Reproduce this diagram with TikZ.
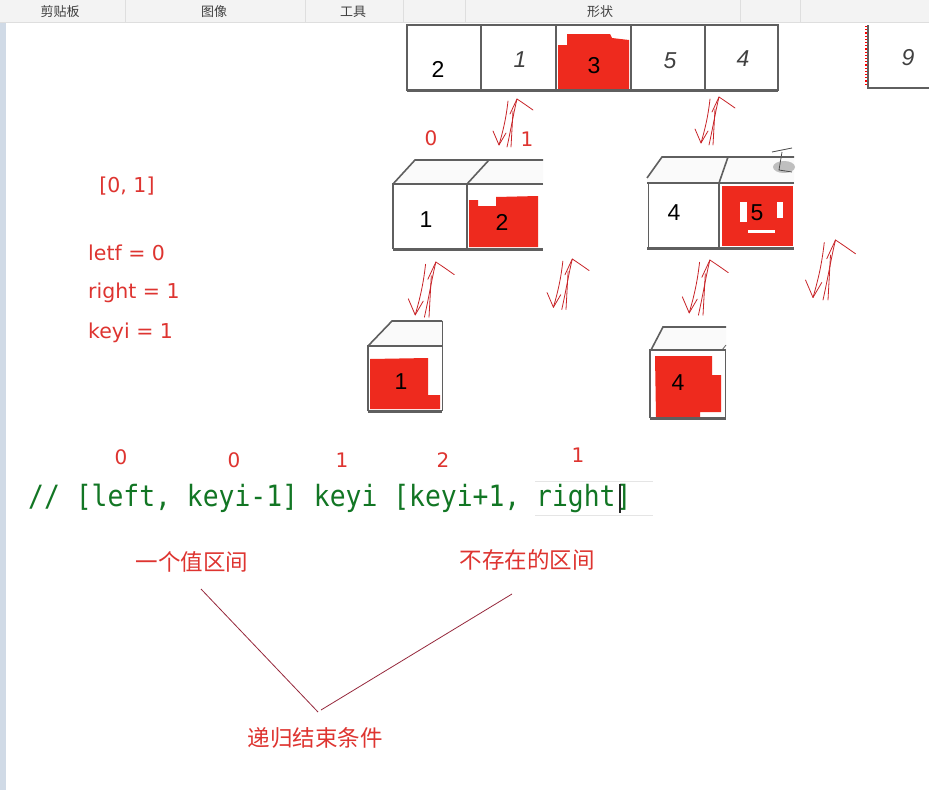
\documentclass[tikz,border=0pt]{standalone}
\usepackage{fontspec}
\setmainfont{Noto Sans CJK SC}
\newfontfamily\cjk{Noto Sans CJK SC}
\newfontfamily\codefont[FakeStretch=0.9]{DejaVu Sans Mono}
\newfontfamily\numfont{Liberation Sans}
\newfontfamily\labfont{DejaVu Sans}
\definecolor{redtxt}{RGB}{222,52,48}
\definecolor{redfill}{RGB}{238,42,30}
\definecolor{scribc}{RGB}{200,36,40}
\definecolor{boxline}{RGB}{95,95,95}
\definecolor{codegreen}{RGB}{18,118,36}
\definecolor{maroon}{RGB}{150,40,60}
\definecolor{barbg}{RGB}{243,243,243}
\definecolor{barline}{RGB}{222,222,222}
\definecolor{stripc}{RGB}{208,218,230}
\begin{document}
\begin{tikzpicture}[x=1pt,y=-1pt,
  redlabel/.style={text=redtxt,font=\labfont\fontsize{20.5}{24}\selectfont,inner sep=0pt},
  rednum/.style={text=redtxt,font=\labfont\fontsize{20}{24}\selectfont,inner sep=0pt},
  cjklabel/.style={text=redtxt,font=\cjk\fontsize{22.5}{26}\selectfont,inner sep=0pt},
  barlabel/.style={text=black!75,font=\cjk\fontsize{13}{15}\selectfont,inner sep=0pt},
  cellnum/.style={text=black,font=\numfont\fontsize{23}{26}\selectfont,inner sep=0pt},
  handnum/.style={text=black!75,font=\numfont\itshape\fontsize{23}{26}\selectfont,inner sep=0pt},
  boxedge/.style={draw=boxline,line width=1.6pt},
  boxbottom/.style={draw=boxline,line width=3pt},
  topface/.style={fill=black!2},
  redblot/.style={fill=redfill},
  scrib/.style={draw=scribc,line width=0.8pt,line cap=round,line join=round},
  pointer/.style={draw=maroon,line width=0.8pt},
  updown/.pic={
    \draw[scrib] (-3,2) .. controls (-5,20) and (-8,32) .. (-12,46);
    \draw[scrib] (-18,32) -- (-12,46) -- (-5,34);
    \draw[scrib] (-4,48) .. controls (0,30) and (3,12) .. (6,0);
    \draw[scrib] (-1,15) -- (6,0) .. controls (12,4) .. (22,11);
    \draw[scrib] (2,12) -- (0,48);
  }
]
\useasboundingbox (0,0) rectangle (929,790);
\fill[white] (0,0) rectangle (929,790);

% toolbar
\fill[barbg] (0,0) rectangle (929,22);
\draw[barline,line width=1pt] (0,22.5) -- (929,22.5);
\foreach \sx in {125,305,403,465,740,800} \draw[barline,line width=0.8pt] (\sx,0) -- (\sx,22);
\node[barlabel] (tb1) at (60,12) {剪贴板};
\node[barlabel] (tb2) at (214,12) {图像};
\node[barlabel] (tb3) at (353,12) {工具};
\node[barlabel] (tb4) at (600,12) {形状};
% left strip
\fill[stripc] (0,23) rectangle (6,790);

% ---------- top array ----------
\fill[redblot] (558,45) -- (567,45) -- (567,34) -- (610,34) -- (612,38) -- (629,40) -- (629,89) -- (558,89) -- cycle;
\draw[boxedge] (407,25) rectangle (778,90);
\foreach \sx in {481,556,631,705} \draw[boxedge] (\sx,25) -- (\sx,90);
\draw[boxbottom] (407,90.5) -- (778,90.5);
\node[cellnum] (a0) at (438,69) {2};
\node[handnum] (a1) at (520,60) {1};
\node[cellnum] (a2) at (594,66) {3};
\node[handnum] (a3) at (670,61) {5};
\node[handnum] (a4) at (743,59) {4};
% partial cell 9
\draw[boxedge] (868,25) -- (868,88) -- (929,88);
\draw[red,dotted,line width=1.2pt] (866,26) -- (866,86);
\node[handnum] (a9) at (908,58) {9};

% labels 0 1
\node[rednum] (l0) at (431,138) {0};
\node[rednum] (l1) at (527,139) {1};

% ---------- middle-left node ----------
\fill[topface] (393,184) -- (415,160) -- (543,160) -- (543,184) -- cycle;
\fill[redblot] (469,200) -- (478,200) -- (478,206) -- (496,206) -- (496,197) -- (538,196) -- (538,247) -- (469,247) -- cycle;
\draw[boxedge] (393,184) -- (415,160) -- (543,160);
\draw[boxedge] (467,184) -- (489,160);
\draw[boxedge] (543,184) -- (393,184) -- (393,249);
\draw[boxedge] (467,184) -- (467,249);
\draw[boxbottom] (393,249) -- (543,249);
\node[cellnum] (m1) at (426,220) {1};
\node[cellnum] (m2) at (502,222) {2};

% ---------- middle-right node ----------
\fill[topface] (647,183) -- (647,178) -- (662,157) -- (794,157) -- (794,183) -- cycle;
\fill[black!25] (784,167) ellipse (11 and 6);
\draw[black!70,line width=0.8pt] (772,152) -- (792,148);
\draw[black!70,line width=0.8pt] (782,152) -- (779,170) -- (792,172);
\fill[redblot] (722,186) rectangle (793,246);
\fill[white] (740,202) rectangle (747,222);
\fill[white] (777,202) rectangle (783,218);
\fill[white] (748,230) rectangle (775,233);
\draw[boxedge] (647,178) -- (662,157) -- (794,157);
\draw[boxedge] (719,183) -- (728,157);
\draw[boxedge] (794,183) -- (647,183);
\draw[boxline,line width=0.8pt] (648,183) -- (648,248);
\draw[boxedge] (719,183) -- (719,248);
\draw[boxbottom] (647,248) -- (794,248);
\node[cellnum] (r1) at (674,213) {4};
\node[cellnum] (r2) at (757,213) {5};

% ---------- bottom-left node ----------
\fill[topface] (368,346) -- (392,321) -- (442,321) -- (442,346) -- cycle;
\fill[redblot] (370,359) -- (428,358) -- (428,395) -- (440,395) -- (440,409) -- (370,409) -- cycle;
\draw[boxedge] (368,346) -- (392,321) -- (442,321);
\draw[boxline,line width=0.8pt] (442,321) -- (442,346);
\draw[boxedge] (368,411) -- (368,346) -- (442,346);
\draw[boxline,line width=1pt] (442,346) -- (442,411);
\draw[boxbottom] (368,411) -- (442,411);
\node[cellnum] (b1) at (401,382) {1};

% ---------- bottom-right node ----------
\fill[topface] (651,350) -- (663,327) -- (726,327) -- (726,350) -- cycle;
\fill[redblot] (655,356) -- (712,356) -- (712,375) -- (721,375) -- (721,412) -- (700,412) -- (700,417) -- (656,417) -- cycle;
\draw[boxedge] (651,350) -- (663,327) -- (726,327);
\draw[boxline,line width=0.8pt] (722,350) -- (726,345);
\draw[boxedge] (650,418) -- (650,350) -- (726,350);
\draw[boxline,line width=0.8pt] (725,350) -- (725,418);
\draw[boxbottom] (650,418) -- (726,418);
\node[cellnum] (b2) at (678,383) {4};

% ---------- hand-drawn arrows ----------
\pic at (511,99) {updown};
\pic at (713,97) {updown};
\pic[scale=1.15] at (429,262) {updown};
\pic[scale=1.05] at (566,259) {updown};
\pic[scale=1.15] at (703,260) {updown};
\pic[scale=1.25] at (828,240) {updown};

% ---------- left labels ----------
\node[redlabel] (rng) at (127,186) {[0, 1]};
\node[redlabel,anchor=west] (vl) at (88,253) {letf = 0};
\node[redlabel,anchor=west] (vr) at (88,293) {right = 1};
\node[redlabel,anchor=west] (vk) at (88,333) {keyi = 1};

% ---------- code line ----------
\node[rednum] (n1) at (121,457) {0};
\node[rednum] (n2) at (234,460) {0};
\node[rednum] (n3) at (342,460) {1};
\node[rednum] (n4) at (443,460) {2};
\node[rednum] (n5) at (578,455) {1};
\draw[black!10,line width=1pt] (535,481) -- (653,481);
\draw[black!10,line width=1pt] (535,515) -- (653,515);
\node[anchor=base west,inner sep=0pt,text=codegreen,font=\codefont\fontsize{29.3}{32}\selectfont] (code) at (28,506) {//~[left,~keyi-1]~keyi~[keyi+1,~right]};
\draw[black!85,line width=1.2pt] (620,484) -- (620,513);

% ---------- bottom labels ----------
\node[cjklabel] (one) at (192,562) {一个值区间};
\node[cjklabel] (none) at (527,560) {不存在的区间};
\node[cjklabel] (endc) at (315,738) {递归结束条件};
\coordinate (p1) at (201,589);
\coordinate (p2) at (512,594);
\coordinate (q1) at (318,712);
\coordinate (q2) at (321,710);
\draw[pointer] (p1) -- (q1);
\draw[pointer] (p2) -- (q2);
\end{tikzpicture}
\end{document}
